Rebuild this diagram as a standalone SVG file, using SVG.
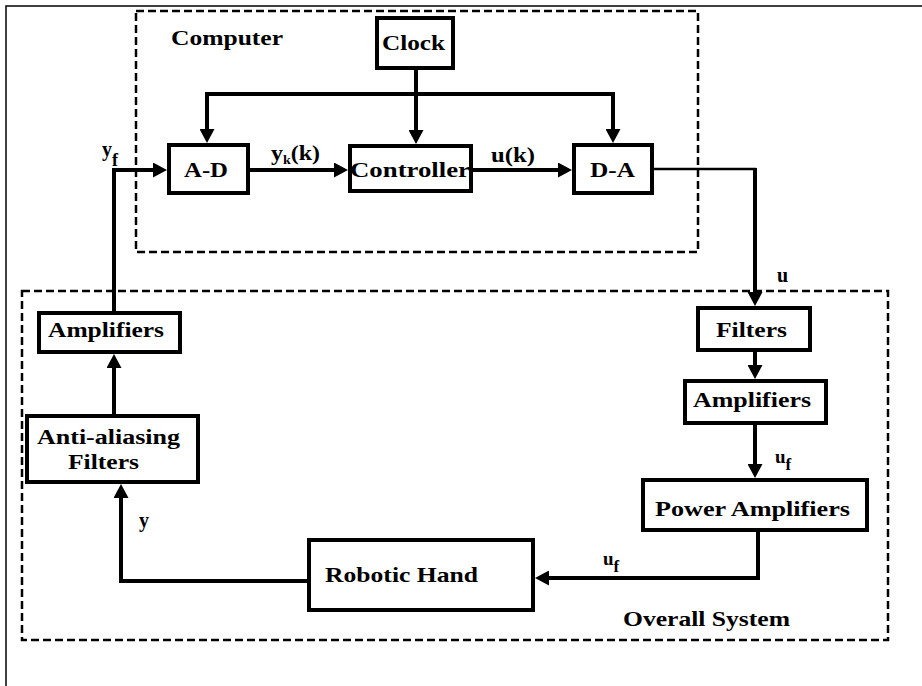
<svg xmlns="http://www.w3.org/2000/svg" width="922" height="686" viewBox="0 0 922 686">
<style>
  .box { fill: #fff; stroke: #000; stroke-width: 4; }
  .t { font-family: "Liberation Serif", "Times New Roman", serif; font-weight: bold; fill: #000; }
  .c { fill: none; stroke: #000; stroke-width: 4; }
  .thin { fill: none; stroke: #000; stroke-width: 2.5; }
  .dash { fill: none; stroke: #000; stroke-width: 2.5; stroke-dasharray: 8 4; }
  .frame { fill: none; stroke: #000; stroke-width: 1.5; }
</style>
<defs>
  <marker id="arr" markerUnits="userSpaceOnUse" markerWidth="14" markerHeight="15" refX="10" refY="7.5" orient="auto">
    <path d="M0,0 L14,7.5 L0,15 z" fill="#000"/>
  </marker>
</defs>
<rect width="922" height="686" fill="#fff"/>
<path class="frame" d="M922,6 L6,6 L6,686"/>

<g id="computer-region">
  <rect class="dash" x="136" y="11" width="562" height="241"/>
  <text class="t" x="171" y="45" font-size="20" textLength="112" lengthAdjust="spacingAndGlyphs">Computer</text>
</g>
<g id="overall-region">
  <rect class="dash" x="22" y="291" width="866" height="349"/>
  <text class="t" x="623" y="626" font-size="21" textLength="167" lengthAdjust="spacingAndGlyphs">Overall System</text>
</g>

<g id="connectors">
  <path class="c" d="M416,70 L416,140" marker-end="url(#arr)"/>
  <path class="c" d="M416,94 L207,94 L207,139" marker-end="url(#arr)"/>
  <path class="c" d="M416,94 L613,94 L613,139" marker-end="url(#arr)"/>
  <path class="c" d="M250,170 L344,170" marker-end="url(#arr)"/>
  <path class="c" d="M473,170 L568,170" marker-end="url(#arr)"/>
  <path class="thin" d="M654,169 L756,169"/>
  <path class="c" d="M755,168 L755,302" marker-end="url(#arr)"/>
  <path class="c" d="M755,352 L755,375" marker-end="url(#arr)"/>
  <path class="c" d="M755,425 L755,474" marker-end="url(#arr)"/>
  <path class="c" d="M758,532 L758,578 L539,578" marker-end="url(#arr)"/>
  <path class="c" d="M307,581 L121,581 L121,488" marker-end="url(#arr)"/>
  <path class="c" d="M114,414 L114,358" marker-end="url(#arr)"/>
  <path class="c" d="M114,311 L114,170 L163,170" marker-end="url(#arr)"/>
</g>

<g id="labels">
  <text class="t" x="271" y="160" font-size="22" textLength="49" lengthAdjust="spacingAndGlyphs">y<tspan font-size="13" dy="4">k</tspan><tspan dy="-4">(k)</tspan></text>
  <text class="t" x="491" y="162" font-size="21" textLength="44" lengthAdjust="spacingAndGlyphs">u(k)</text>
  <text class="t" x="102" y="156" font-size="20">y<tspan font-size="18" dy="10">f</tspan></text>
  <text class="t" x="777" y="282" font-size="20">u</text>
  <text class="t" x="775" y="463" font-size="19">u<tspan font-size="17" dy="7">f</tspan></text>
  <text class="t" x="603" y="565" font-size="19">u<tspan font-size="17" dy="7">f</tspan></text>
  <text class="t" x="139" y="527" font-size="20">y</text>
</g>

<g id="clock">
  <rect class="box" x="377" y="18" width="76" height="50"/>
  <text class="t" x="382" y="50" font-size="21" textLength="63" lengthAdjust="spacingAndGlyphs">Clock</text>
</g>
<g id="ad">
  <rect class="box" x="169" y="145" width="79" height="48"/>
  <text class="t" x="184" y="177" font-size="20" textLength="44" lengthAdjust="spacingAndGlyphs">A-D</text>
</g>
<g id="controller">
  <rect class="box" x="350" y="146" width="121" height="45"/>
  <text class="t" x="350" y="177" font-size="20" textLength="120" lengthAdjust="spacingAndGlyphs">Controller</text>
</g>
<g id="da">
  <rect class="box" x="574" y="145" width="78" height="48"/>
  <text class="t" x="590" y="177" font-size="20" textLength="45" lengthAdjust="spacingAndGlyphs">D-A</text>
</g>
<g id="filters">
  <rect class="box" x="698" y="308" width="112" height="42"/>
  <text class="t" x="716" y="337" font-size="20" textLength="71" lengthAdjust="spacingAndGlyphs">Filters</text>
</g>
<g id="amplifiers-right">
  <rect class="box" x="685" y="381" width="141" height="42"/>
  <text class="t" x="693" y="407" font-size="20" textLength="118" lengthAdjust="spacingAndGlyphs">Amplifiers</text>
</g>
<g id="power-amplifiers">
  <rect class="box" x="643" y="480" width="224" height="50"/>
  <text class="t" x="655" y="516" font-size="20" textLength="195" lengthAdjust="spacingAndGlyphs">Power Amplifiers</text>
</g>
<g id="robotic-hand">
  <rect class="box" x="309" y="540" width="224" height="70"/>
  <text class="t" x="325" y="582" font-size="21" textLength="153" lengthAdjust="spacingAndGlyphs">Robotic Hand</text>
</g>
<g id="anti-aliasing">
  <rect class="box" x="27" y="416" width="171" height="66"/>
  <text class="t" x="37" y="444" font-size="20" textLength="143" lengthAdjust="spacingAndGlyphs">Anti-aliasing</text>
  <text class="t" x="68" y="469" font-size="20" textLength="71" lengthAdjust="spacingAndGlyphs">Filters</text>
</g>
<g id="amplifiers-left">
  <rect class="box" x="39" y="313" width="141" height="39"/>
  <text class="t" x="48" y="337" font-size="20" textLength="116" lengthAdjust="spacingAndGlyphs">Amplifiers</text>
</g>
</svg>
